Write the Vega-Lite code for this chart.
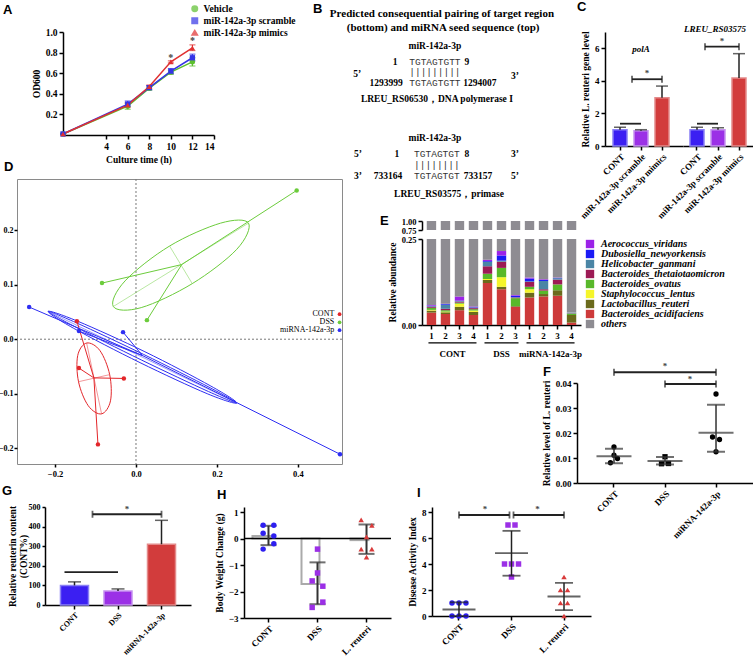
{
"$schema": "https://vega.github.io/schema/vega-lite/v6.json",
"background": "white",
"padding": {"left": -3, "top": 0, "right": 0, "bottom": 0},
"spacing": 0,
"bounds": "flush",
"resolve": {"scale": {"color": "independent", "fill": "independent", "stroke": "independent", "shape": "independent", "xOffset": "independent"}, "legend": {"color": "independent", "shape": "independent", "fill": "independent", "stroke": "independent"}},
"config": {
  "view": {"stroke": null},
  "axis": {"labelFont": "Liberation Serif", "labelFontWeight": "bold", "labelFontSize": 9, "labelColor": "#000", "titleFont": "Liberation Serif", "titleFontWeight": "bold", "titleFontSize": 9.5, "titleColor": "#000", "domainColor": "#000", "domainWidth": 1.5, "tickColor": "#000", "tickWidth": 1.5, "tickSize": 4, "grid": false, "labelPadding": 2, "titlePadding": 4, "labelOverlap": false, "labelBound": false, "tickCount": 20},
  "title": {"font": "Liberation Sans", "fontSize": 13, "fontWeight": "bold", "anchor": "start", "frame": "group", "offset": 0, "color": "#000"},
  "text": {"font": "Liberation Serif", "fontWeight": "bold", "color": "#000"}
},
"datasets": {
  "aData": [
    {"s":"Vehicle","t":0,"od":0.01,"lo":0.01,"hi":0.01},
    {"s":"Vehicle","t":6,"od":0.28,"lo":0.25,"hi":0.31},
    {"s":"Vehicle","t":8,"od":0.455,"lo":0.435,"hi":0.475},
    {"s":"Vehicle","t":10,"od":0.61,"lo":0.59,"hi":0.63},
    {"s":"Vehicle","t":12,"od":0.71,"lo":0.67,"hi":0.75},
    {"s":"miR-142a-3p scramble","t":0,"od":0.01,"lo":0.01,"hi":0.01},
    {"s":"miR-142a-3p scramble","t":6,"od":0.30,"lo":0.28,"hi":0.33},
    {"s":"miR-142a-3p scramble","t":8,"od":0.46,"lo":0.44,"hi":0.48},
    {"s":"miR-142a-3p scramble","t":10,"od":0.62,"lo":0.595,"hi":0.645},
    {"s":"miR-142a-3p scramble","t":12,"od":0.75,"lo":0.72,"hi":0.785},
    {"s":"miR-142a-3p mimics","t":0,"od":0.01,"lo":0.01,"hi":0.01},
    {"s":"miR-142a-3p mimics","t":6,"od":0.29,"lo":0.27,"hi":0.31},
    {"s":"miR-142a-3p mimics","t":8,"od":0.47,"lo":0.455,"hi":0.485},
    {"s":"miR-142a-3p mimics","t":10,"od":0.71,"lo":0.70,"hi":0.72},
    {"s":"miR-142a-3p mimics","t":12,"od":0.845,"lo":0.82,"hi":0.875}
  ],
  "eData": [
    {"s":"CONT 1","t":"Bacteroides_acidifaciens","k":1,"v":0.036},{"s":"CONT 1","t":"Lactobacillus_reuteri","k":2,"v":0.006},{"s":"CONT 1","t":"Staphylococcus_lentus","k":3,"v":0.002},{"s":"CONT 1","t":"Bacteroides_ovatus","k":4,"v":0.006},{"s":"CONT 1","t":"Bacteroides_thetaiotaomicron","k":5,"v":0.003},{"s":"CONT 1","t":"Helicobacter_ganmani","k":6,"v":0.002},{"s":"CONT 1","t":"Dubosiella_newyorkensis","k":7,"v":0.001},{"s":"CONT 1","t":"Aerococcus_viridans","k":8,"v":0.002},{"s":"CONT 1","t":"others","k":9,"v":0.942},
    {"s":"CONT 2","t":"Bacteroides_acidifaciens","k":1,"v":0.032},{"s":"CONT 2","t":"Lactobacillus_reuteri","k":2,"v":0.005},{"s":"CONT 2","t":"Staphylococcus_lentus","k":3,"v":0.002},{"s":"CONT 2","t":"Bacteroides_ovatus","k":4,"v":0.004},{"s":"CONT 2","t":"Bacteroides_thetaiotaomicron","k":5,"v":0.004},{"s":"CONT 2","t":"Helicobacter_ganmani","k":6,"v":0.012},{"s":"CONT 2","t":"Dubosiella_newyorkensis","k":7,"v":0.002},{"s":"CONT 2","t":"Aerococcus_viridans","k":8,"v":0.001},{"s":"CONT 2","t":"others","k":9,"v":0.938},
    {"s":"CONT 3","t":"Bacteroides_acidifaciens","k":1,"v":0.043},{"s":"CONT 3","t":"Lactobacillus_reuteri","k":2,"v":0.010},{"s":"CONT 3","t":"Staphylococcus_lentus","k":3,"v":0.009},{"s":"CONT 3","t":"Bacteroides_ovatus","k":4,"v":0.003},{"s":"CONT 3","t":"Bacteroides_thetaiotaomicron","k":5,"v":0.003},{"s":"CONT 3","t":"Helicobacter_ganmani","k":6,"v":0.002},{"s":"CONT 3","t":"Dubosiella_newyorkensis","k":7,"v":0.001},{"s":"CONT 3","t":"Aerococcus_viridans","k":8,"v":0.012},{"s":"CONT 3","t":"others","k":9,"v":0.917},
    {"s":"CONT 4","t":"Bacteroides_acidifaciens","k":1,"v":0.029},{"s":"CONT 4","t":"Lactobacillus_reuteri","k":2,"v":0.009},{"s":"CONT 4","t":"Staphylococcus_lentus","k":3,"v":0.004},{"s":"CONT 4","t":"Bacteroides_ovatus","k":4,"v":0.004},{"s":"CONT 4","t":"Bacteroides_thetaiotaomicron","k":5,"v":0.003},{"s":"CONT 4","t":"Helicobacter_ganmani","k":6,"v":0.002},{"s":"CONT 4","t":"Dubosiella_newyorkensis","k":7,"v":0.001},{"s":"CONT 4","t":"Aerococcus_viridans","k":8,"v":0.002},{"s":"CONT 4","t":"others","k":9,"v":0.946},
    {"s":"DSS 1","t":"Bacteroides_acidifaciens","k":1,"v":0.122},{"s":"DSS 1","t":"Lactobacillus_reuteri","k":2,"v":0.009},{"s":"DSS 1","t":"Staphylococcus_lentus","k":3,"v":0.003},{"s":"DSS 1","t":"Bacteroides_ovatus","k":4,"v":0.015},{"s":"DSS 1","t":"Bacteroides_thetaiotaomicron","k":5,"v":0.022},{"s":"DSS 1","t":"Helicobacter_ganmani","k":6,"v":0.013},{"s":"DSS 1","t":"Dubosiella_newyorkensis","k":7,"v":0.002},{"s":"DSS 1","t":"Aerococcus_viridans","k":8,"v":0.004},{"s":"DSS 1","t":"others","k":9,"v":0.810},
    {"s":"DSS 2","t":"Bacteroides_acidifaciens","k":1,"v":0.104},{"s":"DSS 2","t":"Lactobacillus_reuteri","k":2,"v":0.007},{"s":"DSS 2","t":"Staphylococcus_lentus","k":3,"v":0.028},{"s":"DSS 2","t":"Bacteroides_ovatus","k":4,"v":0.027},{"s":"DSS 2","t":"Bacteroides_thetaiotaomicron","k":5,"v":0.018},{"s":"DSS 2","t":"Helicobacter_ganmani","k":6,"v":0.003},{"s":"DSS 2","t":"Dubosiella_newyorkensis","k":7,"v":0.015},{"s":"DSS 2","t":"Aerococcus_viridans","k":8,"v":0.013},{"s":"DSS 2","t":"others","k":9,"v":0.785},
    {"s":"DSS 3","t":"Bacteroides_acidifaciens","k":1,"v":0.053},{"s":"DSS 3","t":"Lactobacillus_reuteri","k":2,"v":0.002},{"s":"DSS 3","t":"Bacteroides_ovatus","k":4,"v":0.023},{"s":"DSS 3","t":"Bacteroides_thetaiotaomicron","k":5,"v":0.002},{"s":"DSS 3","t":"Helicobacter_ganmani","k":6,"v":0.001},{"s":"DSS 3","t":"Dubosiella_newyorkensis","k":7,"v":0.004},{"s":"DSS 3","t":"Aerococcus_viridans","k":8,"v":0.002},{"s":"DSS 3","t":"others","k":9,"v":0.913},
    {"s":"miRNA 1","t":"Bacteroides_acidifaciens","k":1,"v":0.080},{"s":"miRNA 1","t":"Lactobacillus_reuteri","k":2,"v":0.014},{"s":"miRNA 1","t":"Staphylococcus_lentus","k":3,"v":0.010},{"s":"miRNA 1","t":"Bacteroides_ovatus","k":4,"v":0.007},{"s":"miRNA 1","t":"Bacteroides_thetaiotaomicron","k":5,"v":0.014},{"s":"miRNA 1","t":"Helicobacter_ganmani","k":6,"v":0.002},{"s":"miRNA 1","t":"Dubosiella_newyorkensis","k":7,"v":0.008},{"s":"miRNA 1","t":"Aerococcus_viridans","k":8,"v":0.003},{"s":"miRNA 1","t":"others","k":9,"v":0.862},
    {"s":"miRNA 2","t":"Bacteroides_acidifaciens","k":1,"v":0.083},{"s":"miRNA 2","t":"Lactobacillus_reuteri","k":2,"v":0.007},{"s":"miRNA 2","t":"Bacteroides_ovatus","k":4,"v":0.010},{"s":"miRNA 2","t":"Bacteroides_thetaiotaomicron","k":5,"v":0.004},{"s":"miRNA 2","t":"Helicobacter_ganmani","k":6,"v":0.024},{"s":"miRNA 2","t":"Dubosiella_newyorkensis","k":7,"v":0.003},{"s":"miRNA 2","t":"Aerococcus_viridans","k":8,"v":0.002},{"s":"miRNA 2","t":"others","k":9,"v":0.867},
    {"s":"miRNA 3","t":"Bacteroides_acidifaciens","k":1,"v":0.085},{"s":"miRNA 3","t":"Lactobacillus_reuteri","k":2,"v":0.016},{"s":"miRNA 3","t":"Bacteroides_ovatus","k":4,"v":0.017},{"s":"miRNA 3","t":"Bacteroides_thetaiotaomicron","k":5,"v":0.014},{"s":"miRNA 3","t":"Helicobacter_ganmani","k":6,"v":0.004},{"s":"miRNA 3","t":"Dubosiella_newyorkensis","k":7,"v":0.001},{"s":"miRNA 3","t":"Aerococcus_viridans","k":8,"v":0.001},{"s":"miRNA 3","t":"others","k":9,"v":0.862},
    {"s":"miRNA 4","t":"Bacteroides_acidifaciens","k":1,"v":0.007},{"s":"miRNA 4","t":"Lactobacillus_reuteri","k":2,"v":0.022},{"s":"miRNA 4","t":"Bacteroides_ovatus","k":4,"v":0.004},{"s":"miRNA 4","t":"Bacteroides_thetaiotaomicron","k":5,"v":0.001},{"s":"miRNA 4","t":"Helicobacter_ganmani","k":6,"v":0.002},{"s":"miRNA 4","t":"others","k":9,"v":0.964}
  ],
  "dPts": [
    {"g":"CONT","x":-0.146,"y":0.033,"cx":-0.104,"cy":-0.071},
    {"g":"CONT","x":-0.141,"y":-0.053,"cx":-0.104,"cy":-0.071},
    {"g":"CONT","x":-0.030,"y":-0.072,"cx":-0.104,"cy":-0.071},
    {"g":"CONT","x":-0.094,"y":-0.193,"cx":-0.104,"cy":-0.071},
    {"g":"DSS","x":0.397,"y":0.273,"cx":0.113,"cy":0.137},
    {"g":"DSS","x":-0.084,"y":0.103,"cx":0.113,"cy":0.137},
    {"g":"DSS","x":0.027,"y":0.035,"cx":0.113,"cy":0.137},
    {"g":"miRNA-142a-3p","x":-0.264,"y":0.059,"cx":0.016,"cy":-0.030},
    {"g":"miRNA-142a-3p","x":-0.141,"y":0.015,"cx":0.016,"cy":-0.030},
    {"g":"miRNA-142a-3p","x":-0.032,"y":0.013,"cx":0.016,"cy":-0.030},
    {"g":"miRNA-142a-3p","x":0.504,"y":-0.211,"cx":0.016,"cy":-0.030}
  ],
  "dEll": [
    {"e":"r","g":"CONT","i":0,"x":-0.085,"y":-0.137},{"e":"r","g":"CONT","i":1,"x":-0.063,"y":-0.113},{"e":"r","g":"CONT","i":2,"x":-0.065,"y":-0.065},{"e":"r","g":"CONT","i":3,"x":-0.089,"y":-0.021},{"e":"r","g":"CONT","i":4,"x":-0.122,"y":-0.007},{"e":"r","g":"CONT","i":5,"x":-0.144,"y":-0.030},{"e":"r","g":"CONT","i":6,"x":-0.142,"y":-0.078},{"e":"r","g":"CONT","i":7,"x":-0.118,"y":-0.122},
    {"e":"g","g":"DSS","i":0,"x":0.278,"y":0.213},{"e":"g","g":"DSS","i":1,"x":0.249,"y":0.165},{"e":"g","g":"DSS","i":2,"x":0.139,"y":0.102},{"e":"g","g":"DSS","i":3,"x":0.013,"y":0.058},{"e":"g","g":"DSS","i":4,"x":-0.056,"y":0.060},{"e":"g","g":"DSS","i":5,"x":-0.027,"y":0.107},{"e":"g","g":"DSS","i":6,"x":0.083,"y":0.171},{"e":"g","g":"DSS","i":7,"x":0.209,"y":0.213},
    {"e":"b1","g":"miRNA-142a-3p","i":0,"x":0.249,"y":-0.117},{"e":"b1","g":"miRNA-142a-3p","i":1,"x":0.176,"y":-0.100},{"e":"b1","g":"miRNA-142a-3p","i":2,"x":0.010,"y":-0.043},{"e":"b1","g":"miRNA-142a-3p","i":3,"x":-0.154,"y":0.020},{"e":"b1","g":"miRNA-142a-3p","i":4,"x":-0.217,"y":0.051},{"e":"b1","g":"miRNA-142a-3p","i":5,"x":-0.144,"y":0.033},{"e":"b1","g":"miRNA-142a-3p","i":6,"x":0.022,"y":-0.023},{"e":"b1","g":"miRNA-142a-3p","i":7,"x":0.185,"y":-0.086},
    {"e":"b2","g":"miRNA-142a-3p","i":0,"x":0.249,"y":-0.117},{"e":"b2","g":"miRNA-142a-3p","i":1,"x":0.179,"y":-0.096},{"e":"b2","g":"miRNA-142a-3p","i":2,"x":0.013,"y":-0.038},{"e":"b2","g":"miRNA-142a-3p","i":3,"x":-0.151,"y":0.023},{"e":"b2","g":"miRNA-142a-3p","i":4,"x":-0.217,"y":0.051},{"e":"b2","g":"miRNA-142a-3p","i":5,"x":-0.147,"y":0.030},{"e":"b2","g":"miRNA-142a-3p","i":6,"x":0.019,"y":-0.028},{"e":"b2","g":"miRNA-142a-3p","i":7,"x":0.183,"y":-0.089}
  ],
  "dAx": [
    {"g":"DSS","x":0.278,"y":0.213,"x2":-0.056,"y2":0.060},
    {"g":"DSS","x":0.139,"y":0.102,"x2":0.083,"y2":0.171},
    {"g":"CONT","x":-0.085,"y":-0.137,"x2":-0.122,"y2":-0.007},
    {"g":"CONT","x":-0.065,"y":-0.065,"x2":-0.142,"y2":-0.078},
    {"g":"miRNA-142a-3p","x":0.249,"y":-0.117,"x2":-0.217,"y2":0.051}
  ],
  "dLeg": [
    {"g":"CONT","tx":0.49,"px":0.503,"y":0.046},
    {"g":"DSS","tx":0.49,"px":0.503,"y":0.031},
    {"g":"miRNA-142a-3p","tx":0.49,"px":0.503,"y":0.0165}
  ],
  "fPts": [
    {"g":"CONT","v":0.0144,"p":"c"},{"g":"CONT","v":0.0111,"p":"c"},{"g":"CONT","v":0.0098,"p":"d"},{"g":"CONT","v":0.0081,"p":"b"},
    {"g":"DSS","v":0.0105,"p":"c"},{"g":"DSS","v":0.0077,"p":"b"},{"g":"DSS","v":0.0078,"p":"d"},
    {"g":"miRNA-142a-3p","v":0.0356,"p":"c"},{"g":"miRNA-142a-3p","v":0.0184,"p":"b"},{"g":"miRNA-142a-3p","v":0.0174,"p":"d"},{"g":"miRNA-142a-3p","v":0.0125,"p":"c"}
  ],
  "fSum": [
    {"g":"CONT","m":0.0107,"lo":0.0079,"hi":0.0137},
    {"g":"DSS","m":0.0088,"lo":0.0074,"hi":0.0104},
    {"g":"miRNA-142a-3p","m":0.0201,"lo":0.0125,"hi":0.0313}
  ],
  "hPts": [
    {"g":"CONT","v":0.5,"p":"b"},{"g":"CONT","v":0.5,"p":"d"},{"g":"CONT","v":0.2,"p":"b"},{"g":"CONT","v":0.1,"p":"d"},{"g":"CONT","v":-0.2,"p":"d"},{"g":"CONT","v":-0.4,"p":"b"},
    {"g":"DSS","v":-0.4,"p":"c"},{"g":"DSS","v":-1.3,"p":"c"},{"g":"DSS","v":-1.6,"p":"b"},{"g":"DSS","v":-1.8,"p":"d"},{"g":"DSS","v":-2.4,"p":"d"},{"g":"DSS","v":-2.6,"p":"b"},
    {"g":"L. reuteri","v":0.7,"p":"b"},{"g":"L. reuteri","v":0.5,"p":"d"},{"g":"L. reuteri","v":0.06,"p":"c"},{"g":"L. reuteri","v":-0.4,"p":"b"},{"g":"L. reuteri","v":-0.4,"p":"d"},{"g":"L. reuteri","v":-0.7,"p":"c"}
  ],
  "hSum": [
    {"g":"CONT","m":0.1,"lo":-0.25,"hi":0.48},
    {"g":"DSS","m":-1.72,"lo":-2.48,"hi":-0.9},
    {"g":"L. reuteri","m":-0.06,"lo":-0.58,"hi":0.53}
  ],
  "iPts": [
    {"g":"CONT","v":1,"p":"a"},{"g":"CONT","v":1,"p":"c"},{"g":"CONT","v":1,"p":"e"},{"g":"CONT","v":0,"p":"a"},{"g":"CONT","v":0,"p":"c"},{"g":"CONT","v":0,"p":"e"},
    {"g":"DSS","v":7,"p":"b"},{"g":"DSS","v":7,"p":"d"},{"g":"DSS","v":4,"p":"a"},{"g":"DSS","v":4,"p":"c"},{"g":"DSS","v":4,"p":"e"},{"g":"DSS","v":3,"p":"c"},
    {"g":"L. reuteri","v":3,"p":"c"},{"g":"L. reuteri","v":2,"p":"b"},{"g":"L. reuteri","v":2,"p":"d"},{"g":"L. reuteri","v":1,"p":"b"},{"g":"L. reuteri","v":1,"p":"d"},{"g":"L. reuteri","v":0,"p":"c"}
  ],
  "iSum": [
    {"g":"CONT","m":0.5,"lo":0,"hi":1.05},
    {"g":"DSS","m":4.83,"lo":3.1,"hi":6.55},
    {"g":"L. reuteri","m":1.5,"lo":0.45,"hi":2.55}
  ]
},
"vconcat": [
  {"width": 1, "height": 31, "data": {"values": []}, "mark": "point", "encoding": {}},
  {"spacing": 0, "bounds": "flush",
   "resolve": {"scale": {"color": "independent", "fill": "independent", "stroke": "independent", "shape": "independent", "xOffset": "independent"}, "legend": {"color": "independent", "shape": "independent", "fill": "independent", "stroke": "independent"}},
   "hconcat": [
    {"width": 63, "height": 1, "data": {"values": []}, "mark": "point", "encoding": {}},
    {"width": 151, "height": 103, "title": {"text": "A", "dx": -60, "dy": 17},
     "data": {"name": "aData"},
     "layer": [
       {"mark": {"type": "line", "strokeWidth": 1.5},
        "encoding": {
          "x": {"field": "t", "type": "quantitative", "scale": {"domain": [0, 14], "nice": false}, "axis": {"values": [4, 6, 8, 10, 12, 14], "format": "d", "title": "Culture time (h)", "labelFontSize": 9.5}},
          "y": {"field": "od", "type": "quantitative", "scale": {"domain": [0, 1], "nice": false}, "axis": {"values": [0.2, 0.4, 0.6, 0.8, 1.0], "format": ".1f", "title": "OD600", "labelFontSize": 9.5}},
          "color": {"field": "s", "type": "nominal", "scale": {"domain": ["Vehicle", "miR-142a-3p scramble", "miR-142a-3p mimics"], "range": ["#5cbf2e", "#3434e6", "#e03131"]},
            "legend": {"orient": "none", "legendX": 127, "legendY": -28, "title": null, "labelFont": "Liberation Serif", "labelFontWeight": "bold", "labelFontSize": 9.5, "labelColor": "#000", "symbolSize": 30, "rowPadding": 0, "padding": 0}}}},
       {"mark": {"type": "rule", "strokeWidth": 1.2},
        "encoding": {"x": {"field": "t", "type": "quantitative"}, "y": {"field": "lo", "type": "quantitative"}, "y2": {"field": "hi"}, "color": {"field": "s", "type": "nominal"}}},
       {"mark": {"type": "tick", "orient": "horizontal", "size": 6, "thickness": 1.2},
        "encoding": {"x": {"field": "t", "type": "quantitative"}, "y": {"field": "hi", "type": "quantitative"}, "color": {"field": "s", "type": "nominal"}}},
       {"mark": {"type": "tick", "orient": "horizontal", "size": 6, "thickness": 1.2},
        "encoding": {"x": {"field": "t", "type": "quantitative"}, "y": {"field": "lo", "type": "quantitative"}, "color": {"field": "s", "type": "nominal"}}},
       {"mark": {"type": "point", "filled": true, "size": 28, "opacity": 1},
        "encoding": {"x": {"field": "t", "type": "quantitative"}, "y": {"field": "od", "type": "quantitative"}, "color": {"field": "s", "type": "nominal"},
          "shape": {"field": "s", "type": "nominal", "scale": {"domain": ["Vehicle", "miR-142a-3p scramble", "miR-142a-3p mimics"], "range": ["circle", "square", "triangle-up"]}}}},
       {"data": {"values": [{"t": 10, "v": 0.75, "s": "*"}, {"t": 12, "v": 0.91, "s": "*"}]},
        "mark": {"type": "text", "fontSize": 10, "color": "#444", "baseline": "middle"},
        "encoding": {"x": {"field": "t", "type": "quantitative"}, "y": {"field": "v", "type": "quantitative"}, "text": {"field": "s"}}}
     ]},
    {"width": 391, "height": 170, "title": {"text": "B", "dx": 99, "dy": 12},
     "layer": [
       {"data": {"values": [
          {"x": 58.3, "y": -1.06, "s": "Predicted consequential pairing of target region"},
          {"x": 58.6, "y": -0.24, "s": "(bottom) and miRNA seed sequence (top)"}]},
        "mark": {"type": "text", "fontSize": 11, "baseline": "middle"},
        "encoding": {"x": {"field": "x", "type": "quantitative", "scale": {"domain": [0, 100]}, "axis": null}, "y": {"field": "y", "type": "quantitative", "scale": {"domain": [0, 10], "reverse": true}, "axis": null}, "text": {"field": "s"}}},
       {"data": {"values": [
          {"x": 56.5, "y": 0.82, "s": "miR-142a-3p"},
          {"x": 46.3, "y": 1.76, "s": "1"}, {"x": 64.7, "y": 1.76, "s": "9"},
          {"x": 36.6, "y": 2.47, "s": "5’"}, {"x": 77.0, "y": 2.59, "s": "3’"},
          {"x": 44.0, "y": 3.0, "s": "1293999"}, {"x": 68.0, "y": 3.0, "s": "1294007"},
          {"x": 57.0, "y": 3.94, "s": "LREU_RS06530，DNA polymerase I"},
          {"x": 56.5, "y": 6.24, "s": "miR-142a-3p"},
          {"x": 36.8, "y": 7.18, "s": "5’"}, {"x": 46.8, "y": 7.18, "s": "1"}, {"x": 64.7, "y": 7.18, "s": "8"}, {"x": 77.0, "y": 7.18, "s": "3’"},
          {"x": 36.8, "y": 8.47, "s": "3’"}, {"x": 44.5, "y": 8.47, "s": "733164"}, {"x": 67.5, "y": 8.47, "s": "733157"}, {"x": 77.0, "y": 8.47, "s": "5’"},
          {"x": 60.1, "y": 9.53, "s": "LREU_RS03575，primase"}]},
        "mark": {"type": "text", "fontSize": 9.5, "baseline": "middle"},
        "encoding": {"x": {"field": "x", "type": "quantitative"}, "y": {"field": "y", "type": "quantitative"}, "text": {"field": "s"}}},
       {"data": {"values": [
          {"x": 56.5, "y": 1.76, "s": "TGTAGTGTT"}, {"x": 56.5, "y": 2.38, "s": "|||||||||"}, {"x": 56.5, "y": 3.0, "s": "TGTAGTGTT"},
          {"x": 57.0, "y": 7.18, "s": "TGTAGTGT"}, {"x": 57.0, "y": 7.8, "s": "||||||||"}, {"x": 57.0, "y": 8.47, "s": "TGTAGTGT"}]},
        "mark": {"type": "text", "fontSize": 9.5, "font": "Liberation Mono", "fontWeight": "normal", "color": "#333", "baseline": "middle"},
        "encoding": {"x": {"field": "x", "type": "quantitative"}, "y": {"field": "y", "type": "quantitative"}, "text": {"field": "s"}}}
     ]},
    {"width": 78, "height": 114, "title": {"text": "C", "dx": -28, "dy": -13},
     "layer": [
       {"data": {"values": [{"trt": "CONT", "m": 1.0, "hi": 1.15}, {"trt": "miR-142a-3p scramble", "m": 0.93, "hi": 1.0}, {"trt": "miR-142a-3p mimics", "m": 2.97, "hi": 3.68}]},
        "layer": [
          {"mark": {"type": "bar", "strokeWidth": 1.5},
           "encoding": {
             "x": {"field": "trt", "type": "nominal", "scale": {"domain": ["CONT", "miR-142a-3p scramble", "miR-142a-3p mimics"], "paddingInner": 0.333, "paddingOuter": 0.524, "align": 0.364}, "axis": {"title": null, "labelAngle": -45}},
             "y": {"field": "m", "type": "quantitative", "scale": {"domain": [0, 7], "nice": false}, "axis": {"values": [0, 2, 4, 6], "format": "d", "title": "Relative L. reuteri gene level"}},
             "fill": {"field": "trt", "type": "nominal", "scale": {"domain": ["CONT", "miR-142a-3p scramble", "miR-142a-3p mimics"], "range": ["#3b1ff2", "#9b30e6", "#d23c3c"]}, "legend": null},
             "stroke": {"field": "trt", "type": "nominal", "scale": {"domain": ["CONT", "miR-142a-3p scramble", "miR-142a-3p mimics"], "range": ["#8a80f5", "#c693f0", "#e48a8a"]}, "legend": null}}},
          {"mark": {"type": "rule", "strokeWidth": 1.5, "color": "#222"},
           "encoding": {"x": {"field": "trt", "type": "nominal"}, "y": {"field": "m", "type": "quantitative"}, "y2": {"field": "hi"}}},
          {"mark": {"type": "tick", "size": 12, "thickness": 1.5, "color": "#222"},
           "encoding": {"x": {"field": "trt", "type": "nominal"}, "y": {"field": "hi", "type": "quantitative"}}}
        ]},
       {"data": {"values": [{"a": "miR-142a-3p scramble", "b": "miR-142a-3p mimics", "y": 4.1}]},
        "layer": [
          {"mark": {"type": "rule", "strokeWidth": 1.8, "color": "#222", "xOffset": -9}, "encoding": {"x": {"field": "a", "type": "nominal"}, "x2": {"field": "b"}, "y": {"field": "y", "type": "quantitative"}}},
          {"mark": {"type": "tick", "orient": "vertical", "size": 7, "thickness": 1.8, "color": "#222", "xOffset": -9}, "encoding": {"x": {"field": "a", "type": "nominal"}, "y": {"field": "y", "type": "quantitative"}}},
          {"mark": {"type": "tick", "orient": "vertical", "size": 7, "thickness": 1.8, "color": "#222"}, "encoding": {"x": {"field": "b", "type": "nominal"}, "y": {"field": "y", "type": "quantitative"}}},
          {"mark": {"type": "text", "fontSize": 9, "dx": -15, "dy": -6, "color": "#444"}, "encoding": {"x": {"field": "b", "type": "nominal"}, "y": {"field": "y", "type": "quantitative"}, "text": {"value": "*"}}}
        ]},
       {"data": {"values": [{"a": "CONT", "b": "miR-142a-3p scramble", "y": 1.37}]},
        "mark": {"type": "rule", "strokeWidth": 1.8, "color": "#222"},
        "encoding": {"x": {"field": "a", "type": "nominal"}, "x2": {"field": "b"}, "y": {"field": "y", "type": "quantitative"}}},
       {"data": {"values": [{"a": "miR-142a-3p scramble", "y": 5.95, "s": "polA"}]},
        "mark": {"type": "text", "fontSize": 9, "fontStyle": "italic", "baseline": "middle"},
        "encoding": {"x": {"field": "a", "type": "nominal"}, "y": {"field": "y", "type": "quantitative"}, "text": {"field": "s"}}}
     ]},
    {"width": 70, "height": 114,
     "layer": [
       {"data": {"values": [{"trt": "CONT", "m": 1.0, "hi": 1.15}, {"trt": "miR-142a-3p scramble", "m": 1.0, "hi": 1.12}, {"trt": "miR-142a-3p mimics", "m": 4.18, "hi": 5.67}]},
        "layer": [
          {"mark": {"type": "bar", "strokeWidth": 1.5},
           "encoding": {
             "x": {"field": "trt", "type": "nominal", "scale": {"domain": ["CONT", "miR-142a-3p scramble", "miR-142a-3p mimics"], "paddingInner": 0.333, "paddingOuter": 0.333, "align": 0.5}, "axis": {"title": null, "labelAngle": -45}},
             "y": {"field": "m", "type": "quantitative", "scale": {"domain": [0, 7], "nice": false}, "axis": null},
             "fill": {"field": "trt", "type": "nominal", "scale": {"domain": ["CONT", "miR-142a-3p scramble", "miR-142a-3p mimics"], "range": ["#3b1ff2", "#9b30e6", "#d23c3c"]}, "legend": null},
             "stroke": {"field": "trt", "type": "nominal", "scale": {"domain": ["CONT", "miR-142a-3p scramble", "miR-142a-3p mimics"], "range": ["#8a80f5", "#c693f0", "#e48a8a"]}, "legend": null}}},
          {"mark": {"type": "rule", "strokeWidth": 1.5, "color": "#222"},
           "encoding": {"x": {"field": "trt", "type": "nominal"}, "y": {"field": "m", "type": "quantitative"}, "y2": {"field": "hi"}}},
          {"mark": {"type": "tick", "size": 12, "thickness": 1.5, "color": "#222"},
           "encoding": {"x": {"field": "trt", "type": "nominal"}, "y": {"field": "hi", "type": "quantitative"}}}
        ]},
       {"data": {"values": [{"a": "miR-142a-3p scramble", "b": "miR-142a-3p mimics", "y": 6.1}]},
        "layer": [
          {"mark": {"type": "rule", "strokeWidth": 1.8, "color": "#222", "xOffset": -13}, "encoding": {"x": {"field": "a", "type": "nominal"}, "x2": {"field": "b"}, "y": {"field": "y", "type": "quantitative"}}},
          {"mark": {"type": "tick", "orient": "vertical", "size": 7, "thickness": 1.8, "color": "#222", "xOffset": -13}, "encoding": {"x": {"field": "a", "type": "nominal"}, "y": {"field": "y", "type": "quantitative"}}},
          {"mark": {"type": "tick", "orient": "vertical", "size": 7, "thickness": 1.8, "color": "#222"}, "encoding": {"x": {"field": "b", "type": "nominal"}, "y": {"field": "y", "type": "quantitative"}}},
          {"mark": {"type": "text", "fontSize": 9, "dx": -17, "dy": -6, "color": "#444"}, "encoding": {"x": {"field": "b", "type": "nominal"}, "y": {"field": "y", "type": "quantitative"}, "text": {"value": "*"}}}
        ]},
       {"data": {"values": [{"a": "CONT", "b": "miR-142a-3p scramble", "y": 1.37}]},
        "mark": {"type": "rule", "strokeWidth": 1.8, "color": "#222"},
        "encoding": {"x": {"field": "a", "type": "nominal"}, "x2": {"field": "b"}, "y": {"field": "y", "type": "quantitative"}}},
       {"data": {"values": [{"a": "miR-142a-3p scramble", "y": 7.2, "s": "LREU_RS03575"}]},
        "mark": {"type": "text", "fontSize": 9, "fontStyle": "italic", "baseline": "middle", "dx": -3},
        "encoding": {"x": {"field": "a", "type": "nominal"}, "y": {"field": "y", "type": "quantitative"}, "text": {"field": "s"}}}
     ]}
  ]},
  {"width": 1, "height": 147, "data": {"values": []}, "mark": "point", "encoding": {}},
  {"spacing": 0, "bounds": "flush",
   "resolve": {"scale": {"color": "independent", "fill": "independent", "stroke": "independent", "shape": "independent", "xOffset": "independent"}, "legend": {"color": "independent", "shape": "independent", "fill": "independent", "stroke": "independent"}},
   "hconcat": [
    {"width": 17, "height": 1, "data": {"values": []}, "mark": "point", "encoding": {}},
    {"width": 325, "height": 285, "title": {"text": "D", "dx": -13, "dy": -1},
     "view": {"stroke": "#8a8a8a", "strokeWidth": 1},
     "layer": [
       {"data": {"values": [{"z": 0}]},
        "mark": {"type": "rule", "strokeDash": [2, 2], "color": "#777", "strokeWidth": 1},
        "encoding": {"x": {"field": "z", "type": "quantitative", "scale": {"domain": [-0.294, 0.509], "nice": false, "zero": false}, "axis": {"values": [-0.2, 0, 0.2, 0.4], "format": ".1f", "title": null, "domain": false, "labelFontSize": 8.5, "tickSize": 3, "labelPadding": 2}}}},
       {"data": {"values": [{"z": 0}]},
        "mark": {"type": "rule", "strokeDash": [2, 2], "color": "#777", "strokeWidth": 1},
        "encoding": {"y": {"field": "z", "type": "quantitative", "scale": {"domain": [-0.229, 0.294], "nice": false, "zero": false}, "axis": {"values": [-0.2, -0.1, 0, 0.1, 0.2], "format": ".1f", "title": null, "domain": false, "labelFontSize": 8, "tickSize": 3, "labelPadding": 1}}}},
       {"data": {"name": "dAx"},
        "mark": {"type": "rule", "strokeWidth": 0.8, "opacity": 0.6},
        "encoding": {"x": {"field": "x", "type": "quantitative"}, "y": {"field": "y", "type": "quantitative"}, "x2": {"field": "x2"}, "y2": {"field": "y2"},
          "color": {"field": "g", "type": "nominal", "scale": {"domain": ["CONT", "DSS", "miRNA-142a-3p"], "range": ["#e3262a", "#6ccc3c", "#2e2ef2"]}, "legend": null}}},
       {"data": {"name": "dEll"},
        "mark": {"type": "line", "interpolate": "cardinal-closed", "strokeWidth": 1},
        "encoding": {"x": {"field": "x", "type": "quantitative"}, "y": {"field": "y", "type": "quantitative"}, "detail": {"field": "e"}, "order": {"field": "i", "type": "quantitative"},
          "color": {"field": "g", "type": "nominal", "legend": null}}},
       {"data": {"name": "dPts"},
        "mark": {"type": "rule", "strokeWidth": 1},
        "encoding": {"x": {"field": "x", "type": "quantitative"}, "y": {"field": "y", "type": "quantitative"}, "x2": {"field": "cx"}, "y2": {"field": "cy"},
          "color": {"field": "g", "type": "nominal", "legend": null}}},
       {"data": {"name": "dPts"},
        "mark": {"type": "point", "filled": true, "size": 20, "opacity": 1},
        "encoding": {"x": {"field": "x", "type": "quantitative"}, "y": {"field": "y", "type": "quantitative"},
          "color": {"field": "g", "type": "nominal", "legend": null}}},
       {"data": {"name": "dLeg"},
        "mark": {"type": "text", "align": "right", "baseline": "middle", "fontSize": 8, "fontWeight": "normal"},
        "encoding": {"x": {"field": "tx", "type": "quantitative"}, "y": {"field": "y", "type": "quantitative"}, "text": {"field": "g"}}},
       {"data": {"name": "dLeg"},
        "mark": {"type": "point", "filled": true, "size": 14, "opacity": 1},
        "encoding": {"x": {"field": "px", "type": "quantitative"}, "y": {"field": "y", "type": "quantitative"},
          "color": {"field": "g", "type": "nominal", "legend": null}}}
     ]},
    {"width": 80, "height": 1, "data": {"values": []}, "mark": "point", "encoding": {}},
    {"spacing": 0, "bounds": "flush",
     "resolve": {"scale": {"color": "independent", "fill": "independent", "stroke": "independent", "shape": "independent", "xOffset": "independent"}, "legend": {"color": "independent", "shape": "independent", "fill": "independent", "stroke": "independent"}},
     "vconcat": [
      {"width": 1, "height": 42, "data": {"values": []}, "mark": "point", "encoding": {}},
      {"width": 159, "height": 9, "title": {"text": "E", "dx": -42, "dy": 15},
       "data": {"name": "eData"},
       "mark": {"type": "bar", "clip": true},
       "encoding": {
         "x": {"field": "s", "type": "nominal", "scale": {"domain": ["CONT 1", "CONT 2", "CONT 3", "CONT 4", "DSS 1", "DSS 2", "DSS 3", "miRNA 1", "miRNA 2", "miRNA 3", "miRNA 4"], "paddingInner": 0.33, "paddingOuter": 0.34}, "axis": null},
         "y": {"field": "v", "type": "quantitative", "stack": "zero", "scale": {"domain": [0.75, 1], "nice": false, "zero": false}, "axis": {"values": [0.75, 1], "format": ".2f", "title": null, "labelFontSize": 8.5, "labelBaseline": "middle"}},
         "color": {"field": "t", "type": "nominal", "scale": {"domain": ["Aerococcus_viridans", "Dubosiella_newyorkensis", "Helicobacter_ganmani", "Bacteroides_thetaiotaomicron", "Bacteroides_ovatus", "Staphylococcus_lentus", "Lactobacillus_reuteri", "Bacteroides_acidifaciens", "others"], "range": ["#9b22e8", "#1a1af5", "#4a85a5", "#9c1a55", "#58b82a", "#f5f52a", "#6b6a1c", "#cd3a3a", "#8e8c92"]}, "legend": null},
         "order": {"field": "k", "type": "quantitative"}}},
      {"width": 1, "height": 9, "data": {"values": []}, "mark": "point", "encoding": {}},
      {"width": 159, "height": 86,
       "layer": [
         {"data": {"name": "eData"},
          "mark": {"type": "bar", "clip": true},
          "encoding": {
            "x": {"field": "s", "type": "nominal", "scale": {"domain": ["CONT 1", "CONT 2", "CONT 3", "CONT 4", "DSS 1", "DSS 2", "DSS 3", "miRNA 1", "miRNA 2", "miRNA 3", "miRNA 4"], "paddingInner": 0.33, "paddingOuter": 0.34}, "axis": {"title": null, "labelAngle": 0, "labelExpr": "slice(datum.label, -1)", "labelFontSize": 9}},
            "y": {"field": "v", "type": "quantitative", "stack": "zero", "scale": {"domain": [0, 0.25], "nice": false}, "axis": {"values": [0, 0.25], "format": ".2f", "title": "Relative abundance", "labelFontSize": 8.5}},
            "color": {"field": "t", "type": "nominal", "scale": {"domain": ["Aerococcus_viridans", "Dubosiella_newyorkensis", "Helicobacter_ganmani", "Bacteroides_thetaiotaomicron", "Bacteroides_ovatus", "Staphylococcus_lentus", "Lactobacillus_reuteri", "Bacteroides_acidifaciens", "others"], "range": ["#9b22e8", "#1a1af5", "#4a85a5", "#9c1a55", "#58b82a", "#f5f52a", "#6b6a1c", "#cd3a3a", "#8e8c92"]},
              "legend": {"orient": "none", "legendX": 163, "legendY": 0, "title": null, "labelFont": "Liberation Serif", "labelFontStyle": "italic", "labelFontWeight": "bold", "labelFontSize": 10, "labelColor": "#000", "symbolType": "square", "symbolSize": 70, "symbolStrokeWidth": 0, "rowPadding": 0, "labelOffset": 6, "padding": 0}},
            "order": {"field": "k", "type": "quantitative"}}},
         {"data": {"values": [{"a": "CONT 1", "b": "CONT 4"}, {"a": "DSS 1", "b": "DSS 3"}, {"a": "miRNA 1", "b": "miRNA 4"}]},
          "mark": {"type": "rule", "strokeWidth": 1.2, "color": "#000", "xOffset": -3, "x2Offset": 3},
          "encoding": {"x": {"field": "a", "type": "nominal"}, "x2": {"field": "b"}, "y": {"datum": -0.052, "type": "quantitative"}}},
         {"data": {"values": [{"a": "CONT 2", "g": "CONT"}, {"a": "miRNA 2", "g": "miRNA-142a-3p"}]},
          "mark": {"type": "text", "fontSize": 9, "dx": 7, "baseline": "middle"},
          "encoding": {"x": {"field": "a", "type": "nominal"}, "y": {"datum": -0.085, "type": "quantitative"}, "text": {"field": "g"}}},
         {"data": {"values": [{"a": "DSS 2", "g": "DSS"}]},
          "mark": {"type": "text", "fontSize": 9, "baseline": "middle"},
          "encoding": {"x": {"field": "a", "type": "nominal"}, "y": {"datum": -0.085, "type": "quantitative"}, "text": {"field": "g"}}}
       ]}
    ]},
    {"width": 155, "height": 1, "data": {"values": []}, "mark": "point", "encoding": {}},
    {"spacing": 0, "bounds": "flush",
     "resolve": {"scale": {"color": "independent", "fill": "independent", "stroke": "independent", "shape": "independent", "xOffset": "independent"}, "legend": {"color": "independent", "shape": "independent", "fill": "independent", "stroke": "independent"}},
     "vconcat": [
      {"width": 1, "height": 204, "data": {"values": []}, "mark": "point", "encoding": {}},
      {"width": 176, "height": 100, "title": {"text": "F", "dx": -34, "dy": 21},
       "layer": [
         {"data": {"name": "fPts"},
          "transform": [{"filter": "datum.g !== 'DSS'"}],
          "mark": {"type": "point", "shape": "circle", "filled": true, "size": 28, "color": "#000", "opacity": 1},
          "encoding": {
            "x": {"field": "g", "type": "nominal", "scale": {"domain": ["CONT", "DSS", "miRNA-142a-3p"], "paddingInner": 0.6, "paddingOuter": 0.525}, "axis": {"title": null, "labelAngle": -45}},
            "xOffset": {"field": "p", "type": "nominal", "scale": {"type": "point", "domain": ["a", "b", "c", "d", "e"], "padding": 0.914}},
            "y": {"field": "v", "type": "quantitative", "scale": {"domain": [0, 0.04], "nice": false}, "axis": {"values": [0, 0.01, 0.02, 0.03, 0.04], "format": ".2f", "title": "Relative level of L. reuteri"}}}},
         {"data": {"name": "fPts"},
          "transform": [{"filter": "datum.g === 'DSS'"}],
          "mark": {"type": "point", "shape": "square", "filled": true, "size": 28, "color": "#000", "opacity": 1},
          "encoding": {
            "x": {"field": "g", "type": "nominal"},
            "xOffset": {"field": "p", "type": "nominal"},
            "y": {"field": "v", "type": "quantitative"}}},
         {"data": {"name": "fSum"},
          "mark": {"type": "tick", "size": 35, "thickness": 2, "color": "#333"},
          "encoding": {"x": {"field": "g", "type": "nominal"}, "y": {"field": "m", "type": "quantitative"}}},
         {"data": {"name": "fSum"},
          "mark": {"type": "tick", "size": 18, "thickness": 2, "color": "#333"},
          "encoding": {"x": {"field": "g", "type": "nominal"}, "y": {"field": "lo", "type": "quantitative"}}},
         {"data": {"name": "fSum"},
          "mark": {"type": "tick", "size": 18, "thickness": 2, "color": "#333"},
          "encoding": {"x": {"field": "g", "type": "nominal"}, "y": {"field": "hi", "type": "quantitative"}}},
         {"data": {"name": "fSum"},
          "mark": {"type": "rule", "strokeWidth": 1.5, "color": "#333"},
          "encoding": {"x": {"field": "g", "type": "nominal"}, "y": {"field": "lo", "type": "quantitative"}, "y2": {"field": "hi"}}},
         {"data": {"values": [{"a": "CONT", "b": "miRNA-142a-3p", "y": 0.0443}, {"a": "DSS", "b": "miRNA-142a-3p", "y": 0.0396}]},
          "layer": [
            {"mark": {"type": "rule", "strokeWidth": 1.8, "color": "#222"}, "encoding": {"x": {"field": "a", "type": "nominal"}, "x2": {"field": "b"}, "y": {"field": "y", "type": "quantitative"}}},
            {"mark": {"type": "tick", "orient": "vertical", "size": 7, "thickness": 1.8, "color": "#222"}, "encoding": {"x": {"field": "a", "type": "nominal"}, "y": {"field": "y", "type": "quantitative"}}},
            {"mark": {"type": "tick", "orient": "vertical", "size": 7, "thickness": 1.8, "color": "#222"}, "encoding": {"x": {"field": "b", "type": "nominal"}, "y": {"field": "y", "type": "quantitative"}}}
          ]},
         {"data": {"values": [{"a": "DSS", "y": 0.047}]},
          "mark": {"type": "text", "fontSize": 9, "color": "#444", "baseline": "middle"},
          "encoding": {"x": {"field": "a", "type": "nominal"}, "y": {"field": "y", "type": "quantitative"}, "text": {"value": "*"}}},
         {"data": {"values": [{"a": "DSS", "y": 0.0418}]},
          "mark": {"type": "text", "fontSize": 9, "color": "#444", "baseline": "middle", "dx": 25},
          "encoding": {"x": {"field": "a", "type": "nominal"}, "y": {"field": "y", "type": "quantitative"}, "text": {"value": "*"}}}
       ]}
    ]}
  ]},
  {"width": 1, "height": 328, "data": {"values": []}, "mark": "point", "encoding": {}},
  {"spacing": 0, "bounds": "flush",
   "resolve": {"scale": {"color": "independent", "fill": "independent", "stroke": "independent", "shape": "independent", "xOffset": "independent"}, "legend": {"color": "independent", "shape": "independent", "fill": "independent", "stroke": "independent"}},
   "hconcat": [
    {"width": 45, "height": 1, "data": {"values": []}, "mark": "point", "encoding": {}},
    {"width": 146, "height": 98, "title": {"text": "G", "dx": -43, "dy": -1},
     "layer": [
       {"data": {"values": [{"g": "CONT", "m": 100, "hi": 118}, {"g": "DSS", "m": 72, "hi": 82}, {"g": "miRNA-142a-3p", "m": 310, "hi": 432}]},
        "layer": [
          {"mark": {"type": "bar", "strokeWidth": 1.5},
           "encoding": {
             "x": {"field": "g", "type": "nominal", "scale": {"domain": ["CONT", "DSS", "miRNA-142a-3p"], "paddingInner": 0.356, "paddingOuter": 0.356}, "axis": {"title": null, "labelAngle": -45, "labelFontSize": 8}},
             "y": {"field": "m", "type": "quantitative", "scale": {"domain": [0, 500], "nice": false}, "axis": {"values": [0, 100, 200, 300, 400, 500], "format": "d", "title": ["Relative reuterin content", "(CONT%)"], "titlePadding": 0, "labelFontSize": 8, "tickSize": 3, "titleLineHeight": 11}},
             "fill": {"field": "g", "type": "nominal", "scale": {"domain": ["CONT", "DSS", "miRNA-142a-3p"], "range": ["#3b1ff2", "#9b30e6", "#d23c3c"]}, "legend": null},
             "stroke": {"field": "g", "type": "nominal", "scale": {"domain": ["CONT", "DSS", "miRNA-142a-3p"], "range": ["#8a80f5", "#c693f0", "#e48a8a"]}, "legend": null}}},
          {"mark": {"type": "rule", "strokeWidth": 1.5, "color": "#222"},
           "encoding": {"x": {"field": "g", "type": "nominal"}, "y": {"field": "m", "type": "quantitative"}, "y2": {"field": "hi"}}},
          {"mark": {"type": "tick", "size": 13, "thickness": 1.5, "color": "#222"},
           "encoding": {"x": {"field": "g", "type": "nominal"}, "y": {"field": "hi", "type": "quantitative"}}}
        ]},
       {"data": {"values": [{"a": "CONT", "b": "miRNA-142a-3p", "y": 463}]},
        "layer": [
          {"mark": {"type": "rule", "strokeWidth": 1.8, "color": "#222", "xOffset": 18}, "encoding": {"x": {"field": "a", "type": "nominal"}, "x2": {"field": "b"}, "y": {"field": "y", "type": "quantitative"}}},
          {"mark": {"type": "tick", "orient": "vertical", "size": 7, "thickness": 1.8, "color": "#222", "xOffset": 18}, "encoding": {"x": {"field": "a", "type": "nominal"}, "y": {"field": "y", "type": "quantitative"}}},
          {"mark": {"type": "tick", "orient": "vertical", "size": 7, "thickness": 1.8, "color": "#222"}, "encoding": {"x": {"field": "b", "type": "nominal"}, "y": {"field": "y", "type": "quantitative"}}}
        ]},
       {"data": {"values": [{"a": "DSS", "y": 488}]},
        "mark": {"type": "text", "fontSize": 9, "color": "#444", "baseline": "middle", "dx": 9},
        "encoding": {"x": {"field": "a", "type": "nominal"}, "y": {"field": "y", "type": "quantitative"}, "text": {"value": "*"}}},
       {"data": {"values": [{"a": "CONT", "b": "DSS", "y": 168}]},
        "mark": {"type": "rule", "strokeWidth": 1.8, "color": "#222", "xOffset": -10},
        "encoding": {"x": {"field": "a", "type": "nominal"}, "x2": {"field": "b"}, "y": {"field": "y", "type": "quantitative"}}}
     ]},
    {"width": 53, "height": 1, "data": {"values": []}, "mark": "point", "encoding": {}},
    {"width": 147, "height": 111, "title": {"text": "H", "dx": -27, "dy": -1},
     "layer": [
       {"data": {"name": "hSum"},
        "mark": {"type": "bar", "fill": "#ffffff", "stroke": "#aaaaaa", "strokeWidth": 2},
        "encoding": {
          "x": {"field": "g", "type": "nominal", "scale": {"domain": ["CONT", "DSS", "L. reuteri"], "paddingInner": 0.347, "paddingOuter": 0.173}, "axis": {"title": null, "labelAngle": -45}},
          "y": {"field": "m", "type": "quantitative", "scale": {"domain": [-3, 1.19], "nice": false, "zero": false}, "axis": {"values": [-3, -2, -1, 0, 1], "format": "d", "title": "Body Weight Change (g)"}}}},
       {"data": {"values": [{"z": 0}]},
        "mark": {"type": "rule", "strokeWidth": 1.5, "color": "#000"},
        "encoding": {"y": {"field": "z", "type": "quantitative"}}},
       {"data": {"name": "hSum"},
        "mark": {"type": "rule", "strokeWidth": 2, "color": "#333"},
        "encoding": {"x": {"field": "g", "type": "nominal"}, "y": {"field": "lo", "type": "quantitative"}, "y2": {"field": "hi"}}},
       {"data": {"name": "hSum"},
        "mark": {"type": "tick", "size": 16, "thickness": 2, "color": "#333"},
        "encoding": {"x": {"field": "g", "type": "nominal"}, "y": {"field": "lo", "type": "quantitative"}}},
       {"data": {"name": "hSum"},
        "mark": {"type": "tick", "size": 16, "thickness": 2, "color": "#333"},
        "encoding": {"x": {"field": "g", "type": "nominal"}, "y": {"field": "hi", "type": "quantitative"}}},
       {"data": {"name": "hPts"},
        "mark": {"type": "point", "filled": true, "size": 30, "opacity": 1},
        "encoding": {
          "x": {"field": "g", "type": "nominal"},
          "xOffset": {"field": "p", "type": "nominal", "scale": {"type": "point", "domain": ["a", "b", "c", "d", "e"], "padding": 2.57}},
          "y": {"field": "v", "type": "quantitative"},
          "color": {"field": "g", "type": "nominal", "scale": {"domain": ["CONT", "DSS", "L. reuteri"], "range": ["#2e1ff0", "#9b2fe6", "#d93a3a"]}, "legend": null},
          "shape": {"field": "g", "type": "nominal", "scale": {"domain": ["CONT", "DSS", "L. reuteri"], "range": ["circle", "square", "triangle-up"]}, "legend": null}}}
     ]},
    {"width": 41, "height": 1, "data": {"values": []}, "mark": "point", "encoding": {}},
    {"width": 159, "height": 109, "title": {"text": "I", "dx": -15, "dy": -1},
     "layer": [
       {"data": {"name": "iPts"},
        "mark": {"type": "point", "filled": true, "size": 30, "opacity": 1},
        "encoding": {
          "x": {"field": "g", "type": "nominal", "scale": {"domain": ["CONT", "DSS", "L. reuteri"], "paddingInner": 0.6, "paddingOuter": 0.314}, "axis": {"title": null, "labelAngle": -45}},
          "xOffset": {"field": "p", "type": "nominal", "scale": {"type": "point", "domain": ["a", "b", "c", "d", "e"], "padding": 1}},
          "y": {"field": "v", "type": "quantitative", "scale": {"domain": [0, 8.385], "nice": false}, "axis": {"values": [0, 2, 4, 6, 8], "format": "d", "title": "Disease Activity Index"}},
          "color": {"field": "g", "type": "nominal", "scale": {"domain": ["CONT", "DSS", "L. reuteri"], "range": ["#2e1ff0", "#9b2fe6", "#d93a3a"]}, "legend": null},
          "shape": {"field": "g", "type": "nominal", "scale": {"domain": ["CONT", "DSS", "L. reuteri"], "range": ["circle", "square", "triangle-up"]}, "legend": null}}},
       {"data": {"name": "iSum"},
        "mark": {"type": "tick", "size": 33, "thickness": 1.8, "color": "#222"},
        "encoding": {"x": {"field": "g", "type": "nominal"}, "y": {"field": "m", "type": "quantitative"}}},
       {"data": {"name": "iSum"},
        "mark": {"type": "tick", "size": 18, "thickness": 1.8, "color": "#222"},
        "encoding": {"x": {"field": "g", "type": "nominal"}, "y": {"field": "lo", "type": "quantitative"}}},
       {"data": {"name": "iSum"},
        "mark": {"type": "tick", "size": 18, "thickness": 1.8, "color": "#222"},
        "encoding": {"x": {"field": "g", "type": "nominal"}, "y": {"field": "hi", "type": "quantitative"}}},
       {"data": {"name": "iSum"},
        "mark": {"type": "rule", "strokeWidth": 1.5, "color": "#222"},
        "encoding": {"x": {"field": "g", "type": "nominal"}, "y": {"field": "lo", "type": "quantitative"}, "y2": {"field": "hi"}}},
       {"data": {"values": [{"a": "CONT", "b": "DSS", "y": 7.77}]},
        "layer": [
          {"mark": {"type": "rule", "strokeWidth": 1.8, "color": "#222", "x2Offset": -2}, "encoding": {"x": {"field": "a", "type": "nominal"}, "x2": {"field": "b"}, "y": {"field": "y", "type": "quantitative"}}},
          {"mark": {"type": "tick", "orient": "vertical", "size": 7, "thickness": 1.8, "color": "#222"}, "encoding": {"x": {"field": "a", "type": "nominal"}, "y": {"field": "y", "type": "quantitative"}}},
          {"mark": {"type": "tick", "orient": "vertical", "size": 7, "thickness": 1.8, "color": "#222", "xOffset": -2}, "encoding": {"x": {"field": "b", "type": "nominal"}, "y": {"field": "y", "type": "quantitative"}}},
          {"mark": {"type": "text", "fontSize": 9, "color": "#444", "dx": 26, "dy": -6}, "encoding": {"x": {"field": "a", "type": "nominal"}, "y": {"field": "y", "type": "quantitative"}, "text": {"value": "*"}}}
        ]},
       {"data": {"values": [{"a": "DSS", "b": "L. reuteri", "y": 7.77}]},
        "layer": [
          {"mark": {"type": "rule", "strokeWidth": 1.8, "color": "#222", "xOffset": 2}, "encoding": {"x": {"field": "a", "type": "nominal"}, "x2": {"field": "b"}, "y": {"field": "y", "type": "quantitative"}}},
          {"mark": {"type": "tick", "orient": "vertical", "size": 7, "thickness": 1.8, "color": "#222", "xOffset": 2}, "encoding": {"x": {"field": "a", "type": "nominal"}, "y": {"field": "y", "type": "quantitative"}}},
          {"mark": {"type": "tick", "orient": "vertical", "size": 7, "thickness": 1.8, "color": "#222"}, "encoding": {"x": {"field": "b", "type": "nominal"}, "y": {"field": "y", "type": "quantitative"}}},
          {"mark": {"type": "text", "fontSize": 9, "color": "#444", "dx": 26, "dy": -6}, "encoding": {"x": {"field": "a", "type": "nominal"}, "y": {"field": "y", "type": "quantitative"}, "text": {"value": "*"}}}
        ]}
     ]}
  ]}
]
}
